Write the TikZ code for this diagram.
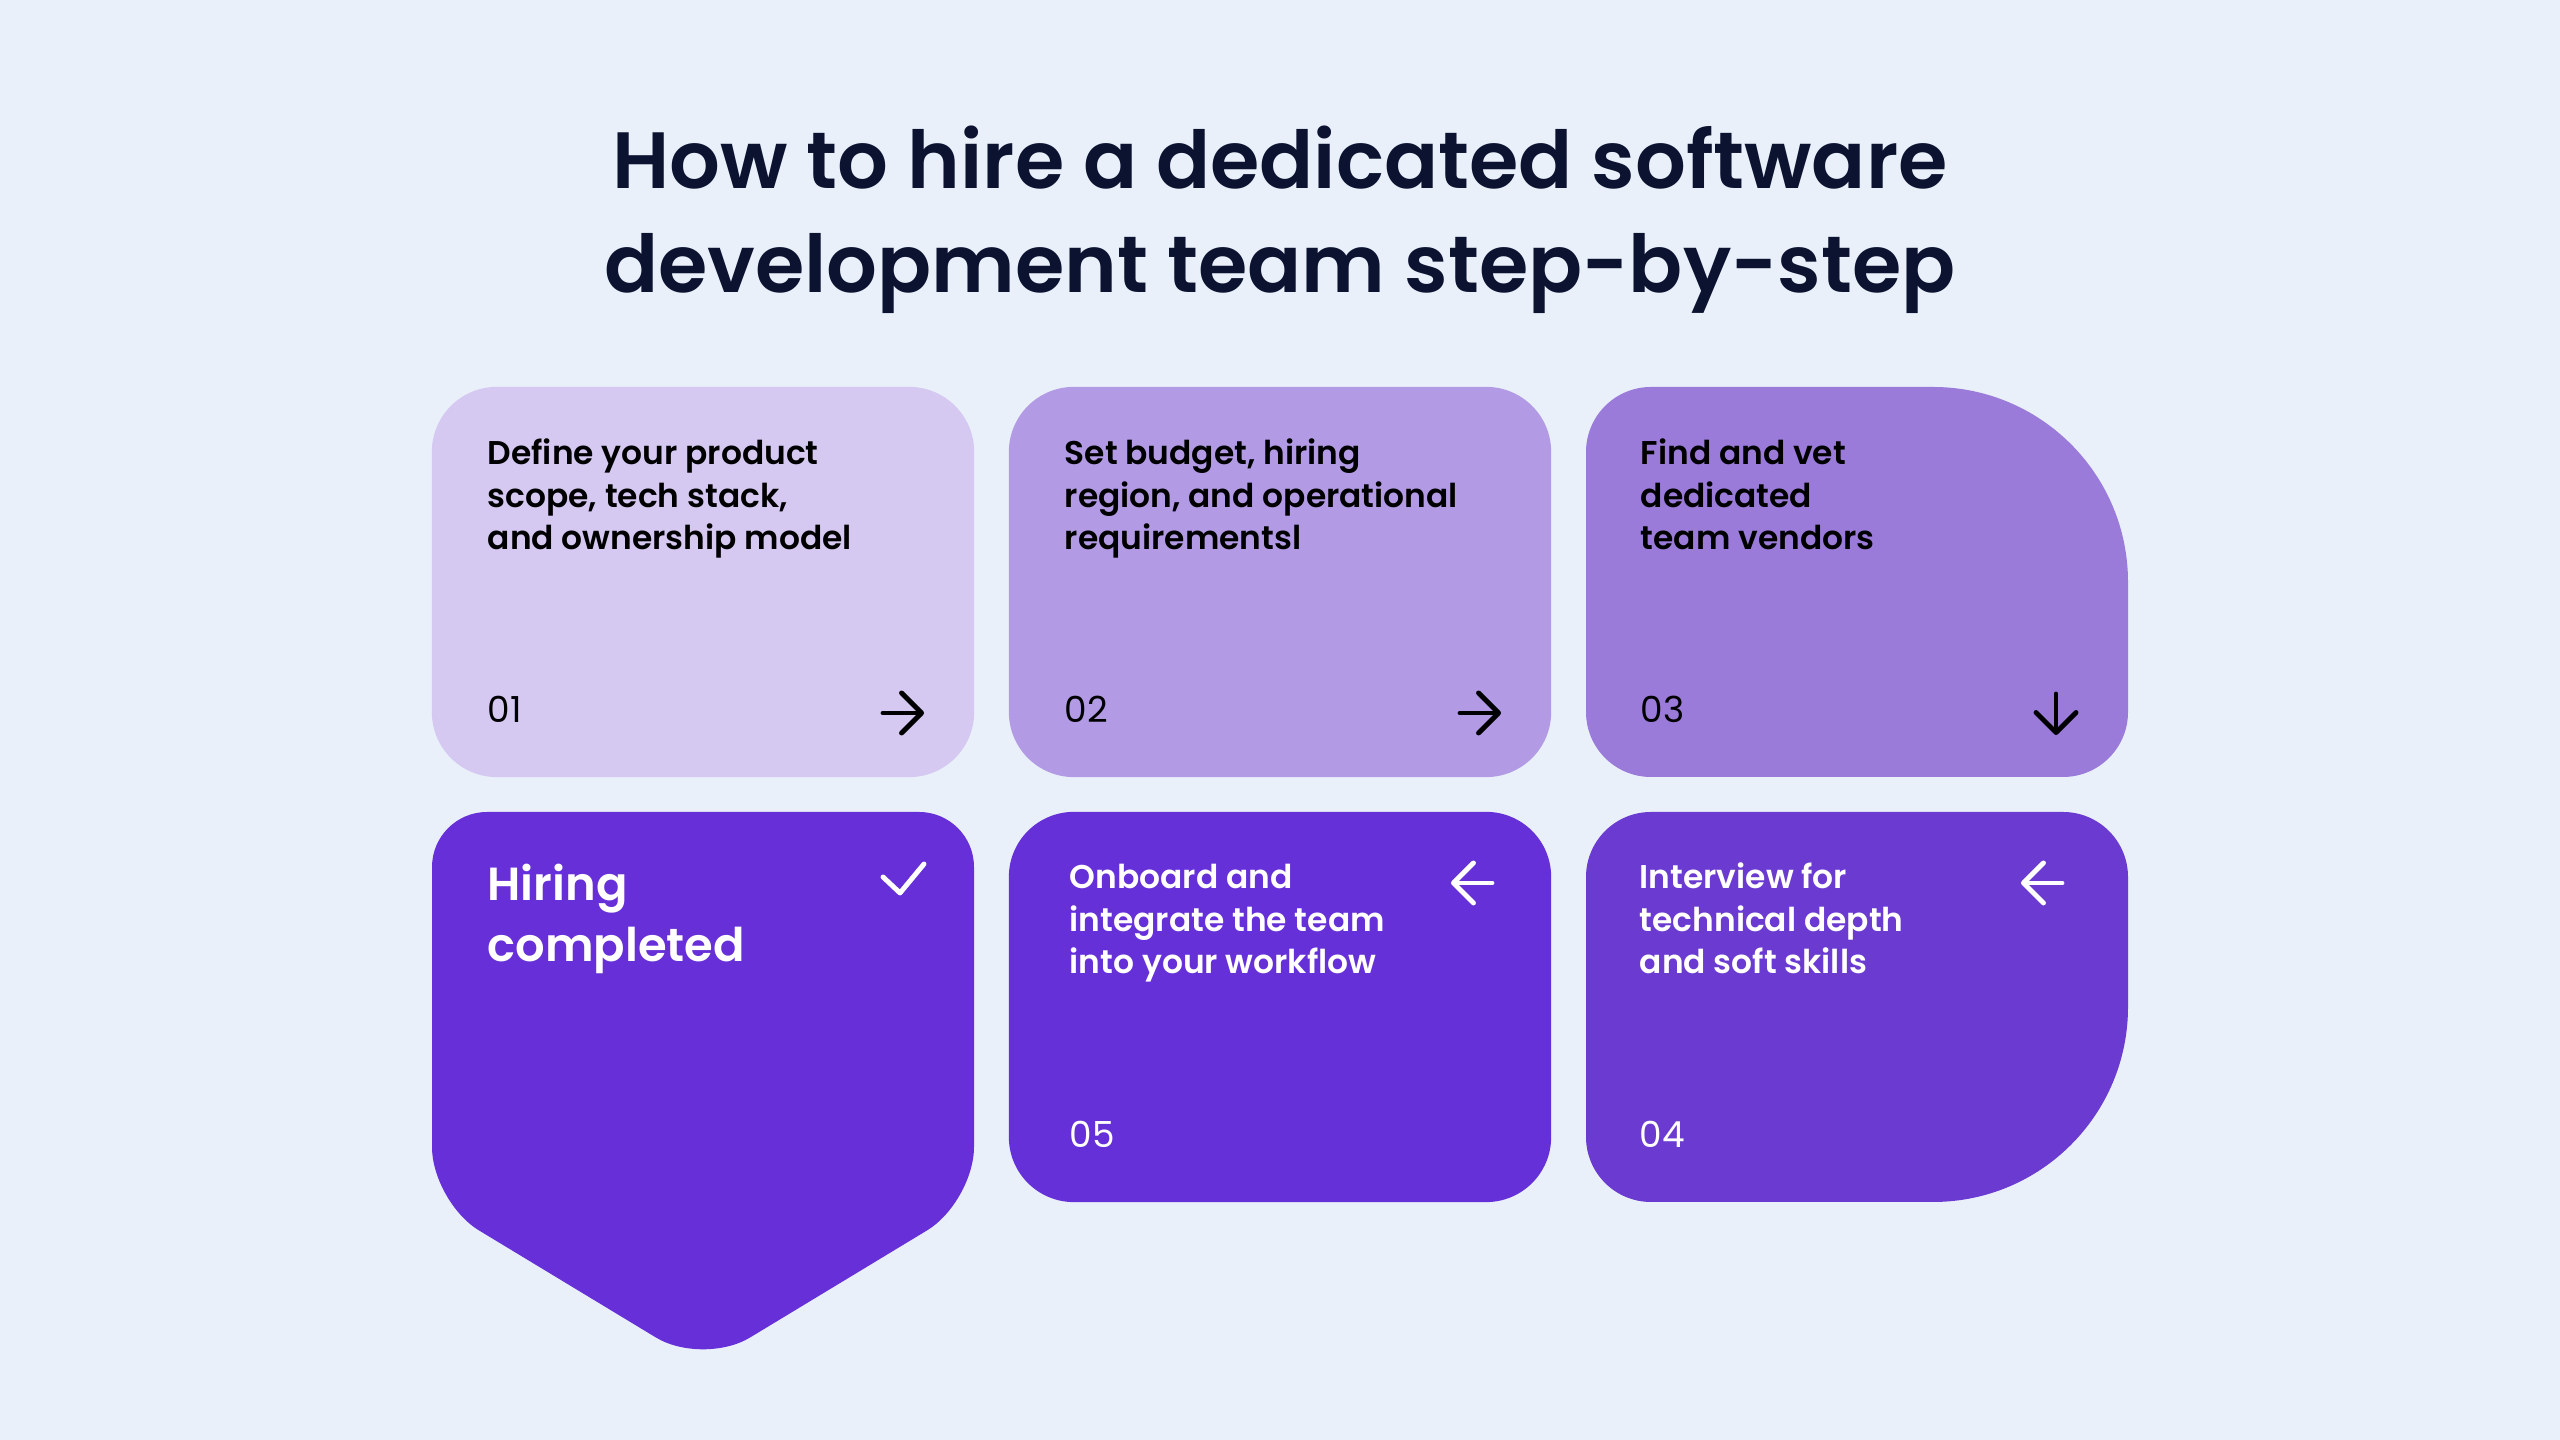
\documentclass[tikz,border=0pt]{standalone}
\usepackage{fontspec}
\setmainfont{Poppins}
\newfontfamily\titlefont{Poppins SemiBold}
\newfontfamily\cardfont{Poppins SemiBold}
\newfontfamily\numfont{Poppins}
\usetikzlibrary{arrows.meta, positioning}
\usepackage{xcolor}
\definecolor{PageBg}{HTML}{E9F0FA}
\definecolor{Ink}{HTML}{0B1330}
\definecolor{Lilac1}{HTML}{D5C8F1}
\definecolor{Lilac2}{HTML}{B29BE4}
\definecolor{Lilac3}{HTML}{9B7BDA}
\definecolor{Violet4}{HTML}{6B3AD0}
\definecolor{Violet5}{HTML}{6630D8}
\definecolor{Violet6}{HTML}{662FD8}

\begin{document}
\begin{tikzpicture}[
    x=0.01cm, y=0.01cm,
    % Global Styles
    card/.style={
        rectangle,
        rounded corners=0.65cm,
        minimum width=5.42cm,
        minimum height=3.9cm,
        inner sep=0pt
    },
    % multi-line texts sit on the baseline of their last line
    steptext/.style={
        anchor=base west,
        align=left,
        inner sep=0pt,
        font=\cardfont\fontsize{9.35}{12.1}\selectfont
    },
    stepnum/.style={
        anchor=base west,
        inner sep=0pt,
        font=\numfont\fontsize{10.2}{12}\selectfont
    },
    % Icon style
    icon/.style={
        line width=1.4pt,
        line cap=round,
        line join=round,
        -{Straight Barb[length=2mm,width=4mm,round]}
    },
    tick/.style={
        line width=1.4pt,
        line cap=round,
        line join=round
    }
]

    \useasboundingbox (0,0) rectangle (2560,1440);
    \fill[PageBg] (0,0) rectangle (2560,1440);

    % --- Title ---
    \node[anchor=base, align=center, text=Ink, inner sep=0pt,
          font=\titlefont\fontsize{22.7}{29.6}\selectfont] (title) at (1280,1147)
        {How to hire a dedicated software\\development team step-by-step};

    % --- Cards ---

    % 1. Scope
    \node[card, fill=Lilac1] (scope) at (703,858) {};

    % 2. Budget
    \node[card, fill=Lilac2] (budget) at (1280,858) {};

    % 3. Vendors (large top right corner)
    \fill[Lilac3] (1651,663) -- (2063,663) arc[start angle=-90, end angle=0, radius=65]
        -- (2128,858) arc[start angle=0, end angle=90, radius=195]
        -- (1651,1053) arc[start angle=90, end angle=180, radius=65]
        -- (1586,728) arc[start angle=180, end angle=270, radius=65] -- cycle;

    % 4. Interview (large bottom right corner)
    \fill[Violet4] (1651,238) -- (1933,238) arc[start angle=-90, end angle=0, radius=195]
        -- (2128,563) arc[start angle=0, end angle=90, radius=65]
        -- (1651,628) arc[start angle=90, end angle=180, radius=65]
        -- (1586,303) arc[start angle=180, end angle=270, radius=65] -- cycle;

    % 5. Onboard
    \node[card, fill=Violet5] (onboard) at (1280,433) {};

    % 6. Hiring completed (pointed bottom)
    \fill[Violet6, rounded corners=0.55cm] (432,420) -- (432,628) -- (974,628)
        -- (974,238) -- (703,74) -- (432,238) -- cycle;

    % --- Texts ---
    \node[steptext, text=black] (scopeTxt) at (487,890)
        {Define your product\\scope, tech stack,\\and ownership model};
    \node[stepnum, text=black] (scopeNum) at (487,717) {01};

    \node[steptext, text=black] (budgetTxt) at (1064,890)
        {Set budget, hiring\\region, and operational\\requirementsl};
    \node[stepnum, text=black] (budgetNum) at (1064,717) {02};

    \node[steptext, text=black] (vendorTxt) at (1640,890)
        {Find and vet\\dedicated\\team vendors};
    \node[stepnum, text=black] (vendorNum) at (1640,717) {03};

    \node[steptext, text=white] (interviewTxt) at (1639,466)
        {Interview for\\technical depth\\and soft skills};
    \node[stepnum, text=white] (interviewNum) at (1639,292) {04};

    \node[steptext, text=white] (onboardTxt) at (1069,466)
        {Onboard and\\integrate the team\\into your workflow};
    \node[stepnum, text=white] (onboardNum) at (1069,292) {05};

    \node[steptext, text=white, font=\titlefont\fontsize{13.2}{17.4}\selectfont] (doneTxt) at (487,478)
        {Hiring\\completed};

    % --- Icons ---
    \coordinate (a1) at (883,727);
    \coordinate (a2) at (1460,727);
    \coordinate (a3) at (2056,746);
    \coordinate (a5) at (1492,557);
    \coordinate (a4) at (2062,557);
    \draw[icon] (a1) -- ++(41,0);
    \draw[icon] (a2) -- ++(41,0);
    \draw[icon] (a3) -- ++(0,-41);
    \draw[icon, white] (a5) -- ++(-41,0);
    \draw[icon, white] (a4) -- ++(-41,0);
    \draw[tick, white] (883,563) -- (900,547) -- (924,576);

\end{tikzpicture}
\end{document}
